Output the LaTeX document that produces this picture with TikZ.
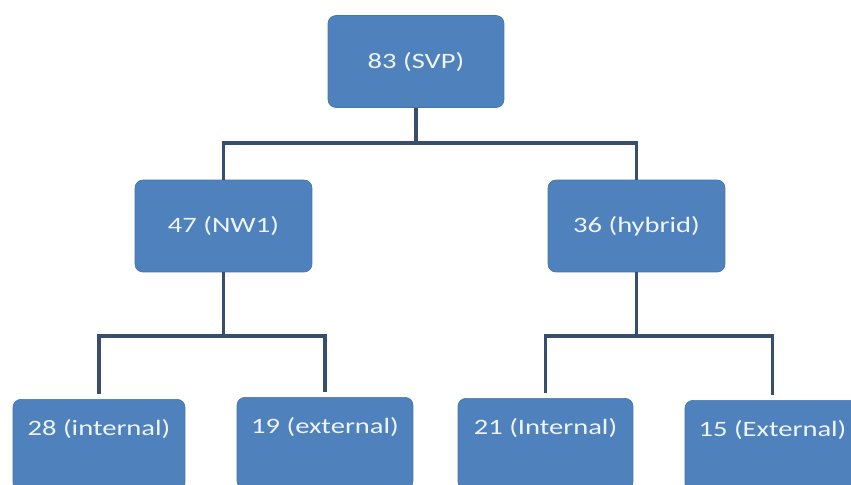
\documentclass[tikz,border=0pt]{standalone}
\usepackage{fontspec}
\setmainfont{Carlito}[FakeStretch=1.3]
\definecolor{boxblue}{HTML}{4F81BD}
\definecolor{boxedge}{HTML}{4675AD}
\definecolor{linkcol}{HTML}{374F6D}
\definecolor{boxtext}{HTML}{EEF4FA}
\begin{document}
\begin{tikzpicture}[x=0.02cm,y=-0.02cm,
    box/.style={draw=boxedge,fill=boxblue,rounded corners=0.16cm,text=boxtext,
      font=\fontsize{12.5}{14}\selectfont,minimum height=1.84cm},
    leaf/.style={box,anchor=north,inner ysep=0pt,minimum height=0pt,
      text height=0.73cm,text depth=1.1cm},
    link/.style={draw=linkcol,line width=1.8pt}]
    \useasboundingbox (0,0) rectangle (851,484);
    \clip (0,0) rectangle (851,484);
    \node[box,minimum width=3.52cm] (svp) at (416,61.5) {83 (SVP)};
    \node[box,minimum width=3.54cm] (nw) at (223.5,226) {47 (NW1)};
    \node[box,minimum width=3.54cm] (hyb) at (636.5,226) {36 (hybrid)};
    \node[leaf,minimum width=3.44cm] (nwint) at (99,399) {28 (internal)};
    \node[leaf,minimum width=3.52cm] (nwext) at (325,397) {19 (external)};
    \node[leaf,minimum width=3.5cm] (hybint) at (545.5,398) {21 (Internal)};
    \node[leaf,minimum width=3.5cm] (hybext) at (772.5,400) {15 (External)};
    % junctions
    \coordinate (jtop) at (416,143);
    \coordinate (jnw) at (223.5,336);
    \coordinate (jhyb) at (636.5,336);
    \draw[link] (svp.south) -- (jtop) -| (nw.north);
    \draw[link] (jtop) -| (hyb.north);
    \draw[link] (nw.south) -- (jnw);
    \draw[link,shorten >=3pt] (jnw) -| (nwint.north);
    \draw[link,shorten >=3pt] (jnw) -| (nwext.north);
    \draw[link] (hyb.south) -- (jhyb);
    \draw[link,shorten >=3pt] (jhyb) -| (hybint.north);
    \draw[link,shorten >=3pt] (jhyb) -| (hybext.north);
\end{tikzpicture}
\end{document}
